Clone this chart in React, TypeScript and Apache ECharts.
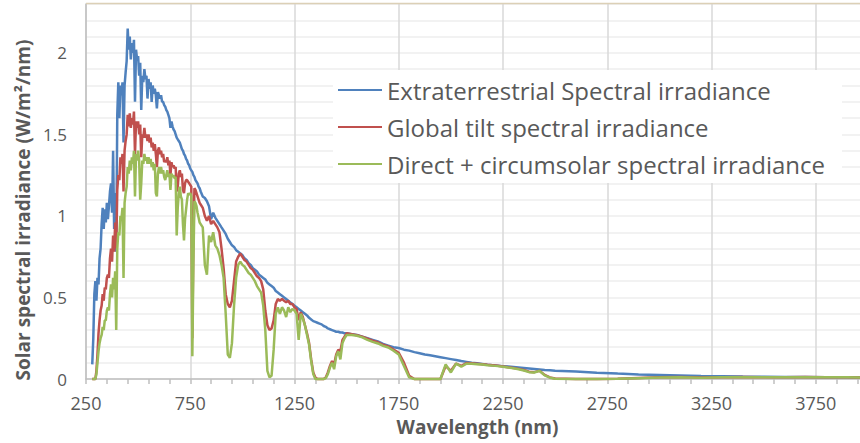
import React, { useEffect, useRef } from "react";
import * as echarts from "echarts";

// Wavelengths (nm), in four segments of different resolution
const wlA = [
  280, 285, 290, 295, 300, 305, 310, 315, 320, 325,
  330, 335, 340, 345, 350, 355, 360, 365, 370, 375,
  380, 385, 390, 395, 400, 405, 410, 415, 420, 425,
  430, 435, 440, 445, 450, 455, 460, 465, 470, 475,
  480, 485, 490, 495, 500, 505, 510, 515, 520, 525,
  530, 535, 540, 545, 550, 555, 560, 565, 570, 575,
  580, 585, 590, 595, 600, 605, 610, 615, 620, 625,
  630, 635, 640, 645, 650, 655, 660, 665, 670, 675,
  680, 685, 690, 695, 700, 705, 710, 715, 720, 725,
  730, 735, 740, 745, 750, 755, 760, 765, 770, 775,
  780, 785, 790, 795, 800,
];
const wlB = [
  810, 820, 830, 840, 850, 860, 870, 880, 890, 900,
  910, 920, 930, 940, 950, 960, 970, 980, 990, 1000,
  1010, 1020, 1030, 1040, 1050, 1060, 1070, 1080, 1090, 1100,
  1110, 1120, 1130, 1140, 1150, 1160, 1170, 1180, 1190, 1200,
  1210, 1220, 1230, 1240, 1250, 1260, 1270, 1280, 1290, 1300,
  1310, 1320, 1330, 1340, 1350, 1360, 1370, 1380, 1390, 1400,
  1410, 1420, 1430, 1440, 1450, 1460, 1470, 1480, 1490, 1500,
];
const wlC = [
  1525, 1550, 1575, 1600, 1625, 1650, 1675, 1700, 1725, 1750,
  1775, 1800, 1825, 1850, 1875, 1900, 1925, 1950, 1975, 2000,
  2025, 2050, 2075, 2100, 2125, 2150, 2175, 2200, 2225, 2250,
  2275, 2300, 2325, 2350, 2375, 2400, 2425, 2450, 2475, 2500,
];
const wlD = [2600, 2700, 2800, 2900, 3000, 3100, 3200, 3300, 3400, 3500, 3600, 3700, 3800, 3900, 4000];

// Extraterrestrial spectral irradiance (W/m²/nm)
const etrA = [
  0.09, 0.25, 0.52, 0.6, 0.48, 0.62, 0.58, 0.74, 0.8, 0.95,
  1.05, 0.92, 1.04, 0.96, 1.08, 0.98, 1.06, 1.15, 1.2, 1.02,
  1.4, 0.92, 1.14, 0.78, 1.62, 1.82, 1.6, 1.8, 1.74, 1.82,
  1.45, 1.8, 1.88, 1.95, 2.15, 2.02, 2.1, 1.96, 2.06, 2.0,
  2.08, 1.7, 2.02, 1.96, 1.98, 1.86, 1.94, 1.65, 1.86, 1.82,
  1.9, 1.84, 1.86, 1.72, 1.84, 1.78, 1.82, 1.7, 1.8, 1.75,
  1.78, 1.74, 1.66, 1.76, 1.74, 1.72, 1.74, 1.7, 1.7, 1.68,
  1.67, 1.65, 1.64, 1.62, 1.6, 1.54, 1.58, 1.55, 1.53, 1.52,
  1.5, 1.48, 1.47, 1.46, 1.45, 1.43, 1.41, 1.4, 1.38, 1.37,
  1.35, 1.34, 1.32, 1.31, 1.29, 1.28, 1.27, 1.25, 1.24, 1.22,
  1.21, 1.2, 1.18, 1.17, 1.15,
];
const etrB = [
  1.12, 1.11, 1.09, 1.06, 0.98, 1.02, 0.99, 0.97, 0.95, 0.93,
  0.91, 0.89, 0.86, 0.84, 0.82, 0.81, 0.79, 0.78, 0.77, 0.76,
  0.74, 0.73, 0.71, 0.7, 0.68, 0.67, 0.66, 0.64, 0.63, 0.62,
  0.61, 0.59, 0.58, 0.57, 0.56, 0.54, 0.53, 0.52, 0.51, 0.5,
  0.49, 0.48, 0.47, 0.46, 0.45, 0.44, 0.43, 0.42, 0.41, 0.4,
  0.39, 0.375, 0.365, 0.355, 0.35, 0.345, 0.34, 0.335, 0.325, 0.32,
  0.31, 0.305, 0.3, 0.295, 0.29, 0.29, 0.285, 0.285, 0.28, 0.28,
];
const etrC = [
  0.275, 0.27, 0.26, 0.25, 0.24, 0.23, 0.215, 0.205, 0.195, 0.19,
  0.18, 0.174, 0.165, 0.158, 0.15, 0.145, 0.14, 0.134, 0.128, 0.122,
  0.116, 0.11, 0.105, 0.1, 0.096, 0.092, 0.088, 0.085, 0.082, 0.079,
  0.076, 0.073, 0.07, 0.067, 0.064, 0.061, 0.058, 0.055, 0.053, 0.051,
];
const etrD = [0.046, 0.039, 0.033, 0.028, 0.025, 0.022, 0.019, 0.017, 0.015, 0.014, 0.013, 0.012, 0.011, 0.01, 0.009];

// Global tilt spectral irradiance
const gtA = [
  0, 0, 0, 0, 0.05, 0.15, 0.28, 0.36, 0.42, 0.45,
  0.52, 0.48, 0.56, 0.55, 0.62, 0.64, 0.62, 0.74, 0.8, 0.72,
  0.88, 0.78, 0.96, 0.8, 1.16, 1.25, 1.22, 1.36, 1.32, 1.38,
  1.15, 1.4, 1.46, 1.5, 1.62, 1.55, 1.63, 1.54, 1.6, 1.56,
  1.64, 1.38, 1.58, 1.54, 1.58, 1.5, 1.56, 1.36, 1.5, 1.48,
  1.54, 1.48, 1.5, 1.46, 1.5, 1.45, 1.48, 1.42, 1.45, 1.4,
  1.44, 1.38, 1.3, 1.4, 1.42, 1.38, 1.4, 1.36, 1.38, 1.33,
  1.34, 1.33, 1.36, 1.31, 1.34, 1.25, 1.33, 1.3, 1.31, 1.29,
  1.3, 1.15, 1.18, 1.26, 1.28, 1.24, 1.26, 1.16, 1.14, 1.2,
  1.22, 1.22, 1.21, 1.2, 1.19, 1.18, 0.25, 0.85, 1.17, 1.16,
  1.14, 1.12, 1.1, 1.08, 1.07,
];
const gtB = [
  1.05, 1.0, 0.97, 1.0, 0.95, 0.97, 0.95, 0.93, 0.9, 0.8,
  0.68, 0.52, 0.46, 0.44, 0.48, 0.6, 0.72, 0.75, 0.77, 0.75,
  0.73, 0.72, 0.7, 0.68, 0.67, 0.65, 0.63, 0.62, 0.6, 0.55,
  0.42, 0.33, 0.3, 0.31, 0.36, 0.46, 0.49, 0.48, 0.49, 0.48,
  0.47, 0.48, 0.46, 0.46, 0.44, 0.43, 0.36, 0.41, 0.38, 0.33,
  0.28, 0.22, 0.12, 0.04, 0.01, 0, 0, 0, 0, 0.01,
  0.04, 0.08, 0.11, 0.09, 0.15, 0.18, 0.17, 0.24, 0.26, 0.28,
];
const gtC = [
  0.274, 0.268, 0.26, 0.248, 0.235, 0.225, 0.21, 0.2, 0.18, 0.16,
  0.1, 0.02, 0, 0, 0, 0, 0, 0, 0.08, 0.05,
  0.095, 0.08, 0.098, 0.097, 0.094, 0.091, 0.087, 0.084, 0.081, 0.077,
  0.072, 0.068, 0.062, 0.055, 0.045, 0.042, 0.05, 0.025, 0.01, 0.003,
];
const gtD = [0, 0, 0.001, 0.006, 0.01, 0.012, 0.009, 0.011, 0.012, 0.01, 0.011, 0.012, 0.01, 0.011, 0.009];

// Direct + circumsolar spectral irradiance
const dcA = [
  0, 0, 0, 0, 0.03, 0.1, 0.17, 0.22, 0.25, 0.27,
  0.32, 0.3, 0.36, 0.36, 0.42, 0.44, 0.42, 0.52, 0.58, 0.5,
  0.62, 0.55, 0.66, 0.3, 0.8, 0.9, 0.88, 1.0, 0.98, 1.05,
  0.62, 1.08, 1.14, 1.18, 1.3, 1.26, 1.34, 1.28, 1.36, 1.32,
  1.4, 1.12, 1.38, 1.34, 1.4, 1.34, 1.1, 1.2, 1.34, 1.32,
  1.38, 1.34, 1.36, 1.32, 1.36, 1.32, 1.35, 1.3, 1.33, 1.28,
  1.32, 1.14, 1.12, 1.26, 1.3, 1.26, 1.3, 1.26, 1.28, 1.24,
  1.22, 1.25, 1.28, 1.24, 1.26, 1.16, 1.26, 1.24, 1.25, 1.23,
  1.24, 0.88, 1.05, 1.14, 1.18, 1.12, 1.1, 0.95, 0.85, 0.98,
  1.04, 1.1, 1.14, 1.13, 1.14, 1.12, 0.14, 0.7, 1.09, 1.08,
  1.06, 1.02, 0.99, 0.96, 0.95,
];
const dcB = [
  0.93, 0.7, 0.64, 0.88, 0.84, 0.9, 0.82, 0.8, 0.76, 0.7,
  0.62, 0.4, 0.15, 0.13, 0.22, 0.45, 0.62, 0.7, 0.72, 0.7,
  0.69, 0.67, 0.65, 0.64, 0.62, 0.6, 0.57, 0.55, 0.53, 0.45,
  0.3, 0.05, 0.01, 0.02, 0.18, 0.4, 0.44, 0.4, 0.44, 0.42,
  0.38, 0.44, 0.41, 0.43, 0.42, 0.4, 0.24, 0.4, 0.37, 0.33,
  0.27, 0.21, 0.11, 0.03, 0, 0, 0, 0, 0, 0.005,
  0.03, 0.07, 0.1, 0.06, 0.14, 0.17, 0.12, 0.22, 0.25, 0.27,
];
const dcC = [
  0.27, 0.265, 0.255, 0.24, 0.228, 0.218, 0.203, 0.193, 0.173, 0.15,
  0.08, 0.01, 0, 0, 0, 0, 0, 0, 0.09, 0.04,
  0.095, 0.075, 0.094, 0.093, 0.091, 0.089, 0.085, 0.082, 0.079, 0.075,
  0.07, 0.066, 0.06, 0.052, 0.042, 0.04, 0.05, 0.022, 0.008, 0.002,
];
const dcD = [0, 0, 0.001, 0.005, 0.009, 0.011, 0.008, 0.01, 0.011, 0.01, 0.01, 0.011, 0.01, 0.01, 0.008];

const seriesNames = [
  "Extraterrestrial Spectral irradiance",
  "Global tilt spectral irradiance",
  "Direct + circumsolar spectral irradiance",
];
const colors = ["#4F81BD", "#C0504D", "#9BBB59"];

const FONT = "'Open Sans', 'Noto Sans', sans-serif";

export default function App() {
  const ref = useRef<HTMLDivElement>(null);

  useEffect(() => {
    if (!ref.current) return;
    const chart = echarts.init(ref.current, undefined, { renderer: "svg" });
    const wl = [...wlA, ...wlB, ...wlC, ...wlD];
    const all = [
      [...etrA, ...etrB, ...etrC, ...etrD],
      [...gtA, ...gtB, ...gtC, ...gtD],
      [...dcA, ...dcB, ...dcC, ...dcD],
    ];
    chart.setOption({
      animation: false,
      backgroundColor: "#ffffff",
      textStyle: { fontFamily: FONT },
      grid: { left: 86, top: 4, width: 834, height: 375, containLabel: false },
      xAxis: {
        type: "value",
        min: 250,
        max: 4250,
        interval: 500,
        axisLine: { show: true, lineStyle: { color: "#bfbfbf", width: 1.5 } },
        axisTick: { show: true, length: 5, lineStyle: { color: "#bfbfbf", width: 1.5 } },
        minorTick: { show: true, splitNumber: 5, length: 5, lineStyle: { color: "#bfbfbf", width: 1.5 } },
        splitLine: { show: true, lineStyle: { color: "#d9d9d9", width: 1.5 } },
        axisLabel: {
          color: "#595959",
          fontSize: 18,
          fontFamily: FONT,
          margin: 15,
          showMaxLabel: false,
          formatter: (v: number) => String(v),
        },
      },
      yAxis: {
        type: "value",
        min: 0,
        max: 2.3,
        interval: 0.1,
        axisLine: { show: true, lineStyle: { color: "#bfbfbf", width: 1.5 } },
        axisTick: { show: false },
        splitLine: { show: true, lineStyle: { color: "#eeeeee", width: 1.5 } },
        axisLabel: {
          color: "#595959",
          fontSize: 17,
          fontFamily: FONT,
          margin: 19,
          formatter: (v: number) => {
            const r = Math.round(v * 10);
            return r % 5 === 0 ? String(r / 10) : "";
          },
        },
      },
      legend: {
        orient: "vertical",
        left: 333,
        top: 70,
        padding: [7, 17, 6, 5],
        backgroundColor: "#ffffff",
        itemWidth: 44,
        itemHeight: 2,
        itemGap: 11,
        icon: "rect",
        data: seriesNames,
        textStyle: { color: "#595959", fontSize: 24, lineHeight: 26, fontFamily: FONT },
      },
      graphic: [
        {
          type: "line",
          shape: { x1: 86, y1: 3.5, x2: 860, y2: 3.5 },
          style: { stroke: "#dcd0b6", lineWidth: 1.5 },
          z: 10,
        },
        {
          type: "text",
          x: 22.5,
          y: 210,
          rotation: Math.PI / 2,
          style: {
            text: "Solar spectral irradiance (W/m²/nm)",
            fontSize: 19,
            fontWeight: "bold",
            fontFamily: FONT,
            fill: "#595959",
            align: "center",
            verticalAlign: "middle",
          },
        },
        {
          type: "text",
          x: 477.5,
          y: 427,
          style: {
            text: "Wavelength (nm)",
            fontSize: 19,
            fontWeight: "bold",
            fontFamily: FONT,
            fill: "#595959",
            align: "center",
            verticalAlign: "middle",
          },
        },
      ],
      series: seriesNames.map((name, k) => ({
        name,
        type: "line",
        data: wl.map((x, i) => [x, all[k][i]]),
        showSymbol: false,
        symbol: "none",
        clip: false,
        color: colors[k],
        lineStyle: { color: colors[k], width: 2.5 },
        emphasis: { disabled: true },
        z: 2 + k,
      })),
    });
    return () => chart.dispose();
  }, []);

  return (
    <div
      style={{
        position: "fixed",
        left: 0,
        top: 0,
        width: 860,
        height: 443,
        overflow: "hidden",
        background: "#ffffff",
      }}
    >
      <div ref={ref} style={{ width: 940, height: 443 }} />
    </div>
  );
}
